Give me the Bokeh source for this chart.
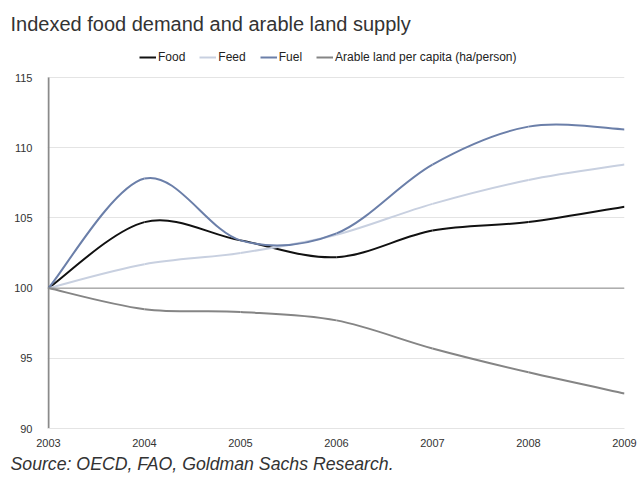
from bokeh.plotting import figure
from bokeh.models import Title, Legend, LegendItem, Span, FixedTicker
from bokeh.embed import file_html
from bokeh.resources import INLINE

years = [2003, 2004, 2005, 2006, 2007, 2008, 2009]
yticks = [90, 95, 100, 105, 110, 115]
food = [100.0, 104.7, 103.4, 102.2, 104.1, 104.7, 105.8]
feed = [100.0, 101.7, 102.5, 103.8, 106.0, 107.7, 108.8]
fuel = [100.0, 107.8, 103.4, 103.9, 108.8, 111.5, 111.3]
arable = [100.0, 98.5, 98.3, 97.7, 95.7, 94.0, 92.5]

series = [
    ("Food", food, "#111111"),
    ("Feed", feed, "#c8d0e0"),
    ("Fuel", fuel, "#6b7fa9"),
    ("Arable land per capita (ha/person)", arable, "#858585"),
]

FONT = "Liberation Sans"

# layout (pixels): plot area 576 x 351, extra 32px headroom for the legend
PX_PER_YEAR = 96.0
PX_PER_UNIT = 351.0 / 25.0
HEADROOM = 32
x_start = years[0] - 1.0 / PX_PER_YEAR
y_end = yticks[-1] + HEADROOM / PX_PER_UNIT

p = figure(frame_width=577, frame_height=351 + HEADROOM, output_backend="svg",
           toolbar_location=None, x_range=(x_start, years[-1]), y_range=(yticks[0], y_end),
           title=None, min_border_left=47, min_border_right=14, min_border_top=45,
           min_border_bottom=0)
p.outline_line_color = None
p.background_fill_color = "white"

p.xgrid.grid_line_color = None
p.ygrid.grid_line_color = "#e4e4e4"
p.ygrid.grid_line_width = 1
p.yaxis.ticker = FixedTicker(ticks=yticks)
p.xaxis.ticker = FixedTicker(ticks=years)

for ax in (p.xaxis, p.yaxis):
    ax.major_tick_line_color = None
    ax.minor_tick_line_color = None
    ax.major_label_text_font = FONT
    ax.major_label_text_font_size = "11px"
    ax.major_label_text_color = "#333333"
p.yaxis.axis_line_color = None
p.xaxis.axis_line_color = "#e4e4e4"
p.xaxis.major_label_standoff = 4
p.yaxis.major_label_standoff = 9

# vertical axis line spanning the value range only
p.segment(x0=[years[0]], y0=[yticks[0]], x1=[years[0]], y1=[yticks[-1]],
          line_color="#8a8a8a", line_width=2)
p.add_layout(Span(location=100, dimension="width", line_color="#8a8a8a", line_width=1))


def bezier_parts(xs, ys):
    n = len(xs)
    x0s, y0s, x1s, y1s, cx0, cy0, cx1, cy1 = [], [], [], [], [], [], [], []
    for i in range(n - 1):
        ip = max(i - 1, 0)
        inx = min(i + 2, n - 1)
        x0s.append(xs[i]); y0s.append(ys[i])
        x1s.append(xs[i + 1]); y1s.append(ys[i + 1])
        cx0.append(xs[i] + (xs[i + 1] - xs[ip]) / 6.0)
        cy0.append(ys[i] + (ys[i + 1] - ys[ip]) / 6.0)
        cx1.append(xs[i + 1] - (xs[inx] - xs[i]) / 6.0)
        cy1.append(ys[i + 1] - (ys[inx] - ys[i]) / 6.0)
    return dict(x0=x0s, y0=y0s, x1=x1s, y1=y1s, cx0=cx0, cy0=cy0, cx1=cx1, cy1=cy1)


items = []
for name, vals, color in series:
    d = bezier_parts(years, vals)
    r = p.bezier(x0=d["x0"], y0=d["y0"], x1=d["x1"], y1=d["y1"],
                 cx0=d["cx0"], cy0=d["cy0"], cx1=d["cx1"], cy1=d["cy1"],
                 line_color=color, line_width=2)
    items.append(LegendItem(label=name, renderers=[r]))

legend = Legend(items=items, orientation="horizontal", location=(92, 364),
                label_text_font=FONT, label_text_font_size="12px", label_text_color="#222222",
                glyph_width=17, glyph_height=10, label_standoff=2, spacing=14,
                padding=0, margin=0, border_line_color=None, background_fill_alpha=0)
p.add_layout(legend, "center")

p.add_layout(Title(text="Indexed food demand and arable land supply", align="left",
                   offset=-37, standoff=21, text_font=FONT, text_font_size="20px",
                   text_font_style="normal", text_color="#333333"), "above")
p.add_layout(Title(text="Source: OECD, FAO, Goldman Sachs Research.", align="left",
                   offset=-37, standoff=5, text_font=FONT, text_font_size="17.7px",
                   text_font_style="italic", text_color="#333333"), "below")

open("out.html", "w").write(file_html(p, INLINE))
